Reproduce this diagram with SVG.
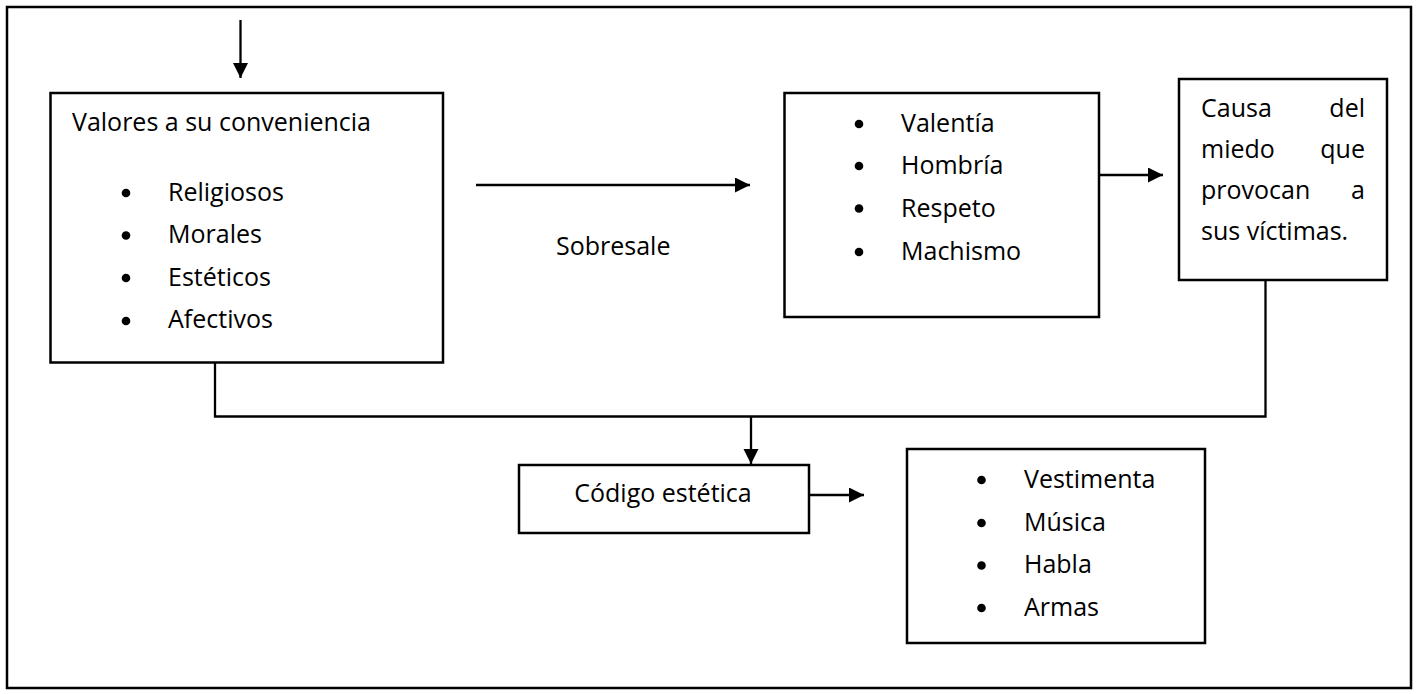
<svg xmlns="http://www.w3.org/2000/svg" width="1418" height="694" viewBox="0 0 1418 694">
  <defs>
    <marker id="head" markerUnits="userSpaceOnUse" markerWidth="16" markerHeight="16" refX="15" refY="7.5" orient="auto">
      <path d="M0,0 L15,7.5 L0,15 Z" fill="#000"/>
    </marker>
    <style>
      .box { fill: #fff; stroke: #000; stroke-width: 2.5; }
      .frame { fill: #fff; stroke: #000; stroke-width: 2.5; }
      .wire { fill: none; stroke: #000; stroke-width: 2.3; }
      .arrow { fill: none; stroke: #000; stroke-width: 2.3; marker-end: url(#head); }
      .t { font-family: "Open Sans", "Noto Sans", sans-serif; font-size: 25px; fill: #000; }
      .end { text-anchor: end; }
      .mid { text-anchor: middle; }
      .dot { fill: #000; }
    </style>
  </defs>

  <!-- page frame -->
  <rect class="frame" x="7" y="7" width="1404" height="681"/>

  <!-- connectors -->
  <g id="connectors">
    <line class="arrow" x1="240.5" y1="20" x2="240.5" y2="78"/>
    <line class="arrow" x1="476" y1="185" x2="750" y2="185"/>
    <line class="arrow" x1="1099" y1="175" x2="1163" y2="175"/>
    <path class="wire" d="M215,363 V416.5 H1265.5 V280"/>
    <line class="arrow" x1="751" y1="416.5" x2="751" y2="464"/>
    <line class="arrow" x1="809" y1="495" x2="864" y2="495"/>
    <text class="t" x="556" y="255">Sobresale</text>
  </g>

  <!-- values box -->
  <g id="valores">
    <rect class="box" x="50.5" y="93" width="392.5" height="269.5"/>
    <text class="t" x="72" y="131">Valores a su conveniencia</text>
    <circle class="dot" cx="126" cy="193" r="4.3"/>
    <circle class="dot" cx="126" cy="235.5" r="4.3"/>
    <circle class="dot" cx="126" cy="278" r="4.3"/>
    <circle class="dot" cx="126" cy="321" r="4.3"/>
    <text class="t" x="168" y="201">Religiosos</text>
    <text class="t" x="168" y="243">Morales</text>
    <text class="t" x="168" y="286">Estéticos</text>
    <text class="t" x="168" y="328">Afectivos</text>
  </g>

  <!-- traits box -->
  <g id="rasgos">
    <rect class="box" x="784.5" y="93" width="314.5" height="224"/>
    <circle class="dot" cx="859" cy="124" r="4.3"/>
    <circle class="dot" cx="859" cy="166" r="4.3"/>
    <circle class="dot" cx="859" cy="208.5" r="4.3"/>
    <circle class="dot" cx="859" cy="252" r="4.3"/>
    <text class="t" x="901" y="132">Valentía</text>
    <text class="t" x="901" y="174">Hombría</text>
    <text class="t" x="901" y="216.5">Respeto</text>
    <text class="t" x="901" y="259.5">Machismo</text>
  </g>

  <!-- cause box (justified lines) -->
  <g id="causa">
    <rect class="box" x="1179" y="79" width="208" height="201"/>
    <text class="t" x="1201" y="117">Causa</text>
    <text class="t end" x="1365" y="117">del</text>
    <text class="t" x="1201" y="158">miedo</text>
    <text class="t end" x="1365" y="158">que</text>
    <text class="t" x="1201" y="199">provocan</text>
    <text class="t end" x="1365" y="199">a</text>
    <text class="t" x="1201" y="240">sus víctimas.</text>
  </g>

  <!-- aesthetic code box -->
  <g id="codigo">
    <rect class="box" x="519" y="465" width="290" height="68"/>
    <text class="t mid" x="663" y="502">Código estética</text>
  </g>

  <!-- aesthetic elements box -->
  <g id="elementos">
    <rect class="box" x="907" y="449" width="298" height="194"/>
    <circle class="dot" cx="981.5" cy="480" r="4.3"/>
    <circle class="dot" cx="981.5" cy="523" r="4.3"/>
    <circle class="dot" cx="981.5" cy="565.5" r="4.3"/>
    <circle class="dot" cx="981.5" cy="608" r="4.3"/>
    <text class="t" x="1024" y="488">Vestimenta</text>
    <text class="t" x="1024" y="531">Música</text>
    <text class="t" x="1024" y="573">Habla</text>
    <text class="t" x="1024" y="616">Armas</text>
  </g>
</svg>
